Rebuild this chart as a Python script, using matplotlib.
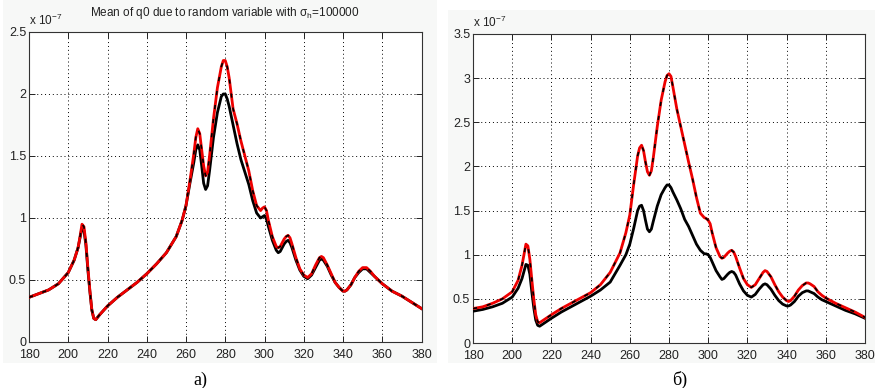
import matplotlib
matplotlib.use("Agg")
import matplotlib.pyplot as plt
from matplotlib.patches import Rectangle

# ---------------- data ----------------
x = [180, 185, 190, 195, 200, 203, 205, 206, 207, 208, 209, 210, 211, 212, 213, 214, 216,
     220, 225, 230, 235, 240, 245, 250, 255, 258, 260, 262, 264, 265, 266, 267, 268, 269,
     270, 271, 272, 274, 276, 278, 279, 280, 281, 282, 284, 286, 288, 290, 292, 294, 296,
     298, 299, 300, 301, 302, 304, 306, 307, 308, 310, 311, 312, 313, 314, 316, 318, 320,
     322, 324, 326, 328, 329, 330, 332, 334, 336, 338, 340, 341, 342, 344, 346, 348, 350,
     351, 352, 354, 356, 358, 360, 365, 370, 375, 380]

a_red = [0.36, 0.39, 0.42, 0.47, 0.56, 0.66, 0.76, 0.85, 0.95, 0.93, 0.80, 0.60, 0.42, 0.26, 0.19, 0.18, 0.22,
         0.29, 0.36, 0.42, 0.48, 0.55, 0.63, 0.72, 0.85, 0.98, 1.10, 1.30, 1.52, 1.65, 1.72, 1.68, 1.55, 1.42,
         1.34, 1.37, 1.50, 1.80, 2.05, 2.22, 2.27, 2.27, 2.22, 2.13, 1.88, 1.76, 1.62, 1.50, 1.38, 1.22, 1.10,
         1.06, 1.08, 1.09, 1.06, 0.98, 0.85, 0.77, 0.76, 0.77, 0.83, 0.85, 0.86, 0.84, 0.79, 0.68, 0.59, 0.54,
         0.52, 0.55, 0.62, 0.68, 0.69, 0.68, 0.62, 0.55, 0.48, 0.44, 0.41, 0.41, 0.42, 0.46, 0.52, 0.57, 0.60,
         0.60, 0.60, 0.57, 0.53, 0.50, 0.47, 0.41, 0.37, 0.32, 0.27]

a_blk = [0.36, 0.39, 0.42, 0.47, 0.56, 0.66, 0.76, 0.84, 0.92, 0.90, 0.78, 0.58, 0.41, 0.26, 0.19, 0.18, 0.22,
         0.29, 0.36, 0.42, 0.48, 0.55, 0.63, 0.72, 0.85, 0.98, 1.10, 1.28, 1.45, 1.55, 1.59, 1.55, 1.42, 1.28,
         1.23, 1.26, 1.38, 1.65, 1.85, 1.98, 2.00, 2.00, 1.96, 1.90, 1.75, 1.60, 1.47, 1.37, 1.27, 1.14, 1.04,
         1.00, 1.01, 1.02, 0.99, 0.93, 0.82, 0.74, 0.72, 0.73, 0.79, 0.81, 0.82, 0.80, 0.76, 0.66, 0.58, 0.53,
         0.51, 0.54, 0.60, 0.66, 0.67, 0.66, 0.61, 0.54, 0.48, 0.44, 0.41, 0.41, 0.42, 0.46, 0.52, 0.56, 0.59,
         0.59, 0.59, 0.56, 0.53, 0.50, 0.47, 0.41, 0.37, 0.32, 0.27]

b_red = [0.39, 0.41, 0.45, 0.50, 0.58, 0.71, 0.88, 1.00, 1.12, 1.10, 0.95, 0.72, 0.50, 0.32, 0.24, 0.23, 0.26,
         0.32, 0.39, 0.45, 0.51, 0.57, 0.66, 0.80, 1.02, 1.25, 1.45, 1.80, 2.12, 2.21, 2.24, 2.18, 2.05, 1.94,
         1.90, 1.95, 2.10, 2.45, 2.75, 2.96, 3.03, 3.05, 3.02, 2.90, 2.65, 2.45, 2.25, 2.05, 1.86, 1.65, 1.47,
         1.42, 1.41, 1.39, 1.35, 1.25, 1.08, 0.98, 0.96, 0.97, 1.02, 1.04, 1.05, 1.03, 0.98, 0.85, 0.73, 0.66,
         0.63, 0.66, 0.73, 0.80, 0.82, 0.81, 0.75, 0.66, 0.58, 0.52, 0.48, 0.47, 0.48, 0.53, 0.60, 0.65, 0.68,
         0.68, 0.67, 0.64, 0.58, 0.54, 0.51, 0.45, 0.40, 0.35, 0.29]

b_blk = [0.36, 0.38, 0.41, 0.45, 0.52, 0.62, 0.73, 0.81, 0.89, 0.88, 0.78, 0.58, 0.40, 0.26, 0.20, 0.19, 0.22,
         0.28, 0.35, 0.41, 0.47, 0.53, 0.60, 0.69, 0.88, 1.00, 1.12, 1.30, 1.50, 1.55, 1.56, 1.50, 1.39, 1.29,
         1.26, 1.29, 1.38, 1.55, 1.68, 1.76, 1.79, 1.79, 1.76, 1.71, 1.62, 1.52, 1.40, 1.32, 1.22, 1.12, 1.05,
         1.01, 1.01, 1.00, 0.97, 0.92, 0.82, 0.75, 0.72, 0.73, 0.78, 0.80, 0.81, 0.80, 0.77, 0.67, 0.59, 0.54,
         0.52, 0.55, 0.61, 0.66, 0.67, 0.66, 0.61, 0.54, 0.48, 0.44, 0.42, 0.42, 0.43, 0.47, 0.53, 0.57, 0.59,
         0.59, 0.58, 0.56, 0.52, 0.49, 0.47, 0.42, 0.37, 0.33, 0.28]

xticks = [180, 200, 220, 240, 260, 280, 300, 320, 340, 360, 380]
a_yticks = [0, 0.5, 1, 1.5, 2, 2.5]
a_yticklabels = ["0", "0.5", "1", "1.5", "2", "2.5"]
b_yticks = [0, 0.5, 1, 1.5, 2, 2.5, 3, 3.5]
b_yticklabels = ["0", "0.5", "1", "1.5", "2", "2.5", "3", "3.5"]
title_a = r"Mean of q0 due to random variable with $\sigma_h$=100000"
panel_labels = ["а)", "б)"]

# ---------------- figure ----------------
plt.rcParams['font.family'] = ['Liberation Sans', 'DejaVu Sans']
plt.rcParams['mathtext.fontset'] = 'custom'
plt.rcParams['mathtext.rm'] = 'Liberation Sans'
plt.rcParams['mathtext.it'] = 'Liberation Sans'

fig = plt.figure(figsize=(8.75, 3.88), dpi=100)
fig.patch.set_facecolor('white')

# light panel backgrounds (MATLAB figure colour), drawn behind the axes
W, H = 875.0, 388.0
fig.add_artist(Rectangle((3 / W, 1 - 363 / H), (437 - 3) / W, 363 / H,
                         transform=fig.transFigure, facecolor='#f7f8f7',
                         edgecolor='none', zorder=-10))
fig.add_artist(Rectangle((448 / W, 1 - 363 / H), (875 - 448) / W, (363 - 10) / H,
                         transform=fig.transFigure, facecolor='#f7f8f7',
                         edgecolor='none', zorder=-10))

axA = fig.add_axes([29 / W, 1 - 342 / H, (421.5 - 29) / W, (342 - 32) / H])
axB = fig.add_axes([473 / W, 1 - 343 / H, (865 - 473) / W, (343 - 34) / H])

tick_col = '#222222'
for ax, red, blk, yt, ytl, ymax in [
        (axA, a_red, a_blk, a_yticks, a_yticklabels, 2.5),
        (axB, b_red, b_blk, b_yticks, b_yticklabels, 3.5)]:
    ax.set_facecolor('white')
    ax.plot(x, blk, color='black', lw=2.0, solid_joinstyle='round', zorder=3)
    ax.plot(x, red, color='#ee0000', lw=2.0, solid_joinstyle='round', zorder=4)
    ax.plot(x, red, color='black', lw=1.2, dashes=(2.5, 6), zorder=5)
    ax.set_xlim(180, 380)
    ax.set_ylim(0, ymax)
    ax.set_xticks(xticks)
    ax.set_xticklabels([str(t) for t in xticks])
    ax.set_yticks(yt)
    ax.set_yticklabels(ytl)
    ax.grid(True, color='black', linestyle=(0, (1, 3)), linewidth=0.7)
    ax.tick_params(direction='in', length=4, width=0.7, top=True, right=True,
                   labelsize=9, colors=tick_col)
    ax.tick_params(axis='x', pad=5)
    ax.tick_params(axis='y', pad=2)
    for sp in ax.spines.values():
        sp.set_color('#333333')
        sp.set_linewidth(0.8)
    ax.text(0.0, 1.012, r"x 10$^{-7}$", transform=ax.transAxes, fontsize=8.5,
            color=tick_col, ha='left', va='bottom')

axA.text(0.5, 1.035, title_a, transform=axA.transAxes, fontsize=8.5,
         color=tick_col, ha='center', va='bottom')

fig.text(200 / W, 1 - 380 / H, panel_labels[0], fontsize=13, family='Liberation Serif',
         ha='center', va='center')
fig.text(680 / W, 1 - 380 / H, panel_labels[1], fontsize=13, family='Liberation Serif',
         ha='center', va='center')

fig.savefig("out.png", dpi=100, facecolor='white')
